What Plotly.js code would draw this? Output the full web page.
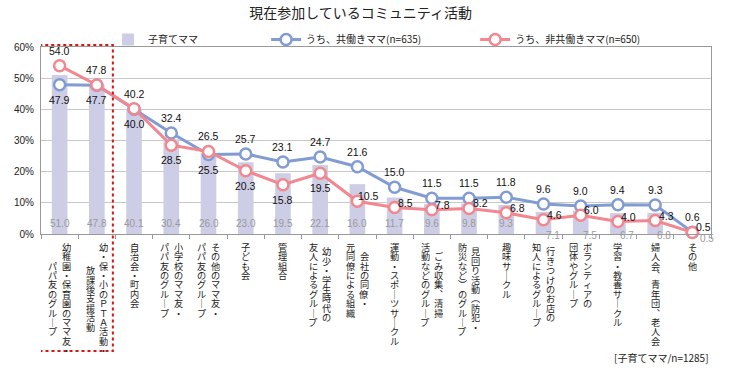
<!DOCTYPE html>
<html><head><meta charset="utf-8">
<script src="https://cdn.plot.ly/plotly-3.0.1.min.js"></script>
<style>html,body{margin:0;padding:0;background:#fff}</style>
</head><body><div id="chart" style="width:730px;height:375px"></div>
<script>
// ---- data ----
const labelColumns = [
  ['幼稚園・保育園のママ友・', 'パパ友のグループ'],
  ['幼・保・小のＰＴＡ活動・', '放課後支援活動'],
  ['自治会・町内会'],
  ['小学校のママ友・', 'パパ友のグループ'],
  ['その他のママ友・', 'パパ友のグループ'],
  ['子ども会'],
  ['管理組合'],
  ['幼少・学生時代の', '友人によるグループ'],
  ['会社の同僚・', '元同僚による組織'],
  ['運動・スポーツサークル'],
  ['ごみ収集、清掃', '活動などのグループ'],
  ['見回り活動（防犯・', '防災など）のグループ'],
  ['趣味サークル'],
  ['行きつけのお店の', '知人によるグループ'],
  ['ボランティアの', '団体やグループ'],
  ['学習・教養サークル'],
  ['婦人会、青年団、老人会'],
  ['その他']
];
const categories = labelColumns.map(c => c.join(''));
const allMoms        = [51.0, 47.8, 40.1, 30.4, 26.0, 23.0, 19.5, 22.1, 16.0, 11.7, 9.6, 9.8, 9.3, 7.1, 7.5, 6.7, 6.8, 0.5];
const workingMoms    = [47.9, 47.7, 40.0, 32.4, 25.5, 25.7, 23.1, 24.7, 21.6, 15.0, 11.5, 11.5, 11.8, 9.6, 9.0, 9.4, 9.3, 0.6];
const nonWorkingMoms = [54.0, 47.8, 40.2, 28.5, 26.5, 20.3, 15.8, 19.5, 10.5, 8.5, 7.8, 8.2, 6.8, 4.6, 6.0, 4.0, 4.3, 0.5];
const seriesNames = ['子育てママ', 'うち、共働きママ(n=635)', 'うち、非共働きママ(n=650)'];
const yTicks = [0, 10, 20, 30, 40, 50, 60];
const yTickText = ['0%', '10%', '20%', '30%', '40%', '50%', '60%'];
const chartTitle = '現在参加しているコミュニティ活動';
const footnote = '[子育てママ/n=1285]';

// ---- style ----
const JP = '"Noto Sans CJK JP", "Noto Sans", sans-serif';
const NUM = '"Liberation Sans", Arial, sans-serif';
const BAR_C = '#cdcde6', BLUE = '#819bd3', PINK = '#f2878f';
// label placement per point (style)
const bluePlace = categories.map((_, i) => nonWorkingMoms[i] > workingMoms[i] ? 'below' : 'above');
const pinkPlace = categories.map((_, i) => nonWorkingMoms[i] > workingMoms[i] ? 'above' : (i >= 8 ? 'right' : 'below'));
const placeShift = {above: [0, 15], below: [0, -15], right: [11, 5]};

const traces = [
  {type: 'bar', x: categories, y: allMoms, name: seriesNames[0], marker: {color: BAR_C}, width: 0.42,
   legend: 'legend', hoverinfo: 'skip'},
  {type: 'scatter', mode: 'lines+markers', x: categories, y: workingMoms, name: seriesNames[1],
   line: {color: BLUE, width: 3}, marker: {symbol: 'circle', size: 11, color: '#fff', line: {color: BLUE, width: 2.5}},
   legend: 'legend2', cliponaxis: false, hoverinfo: 'skip'},
  {type: 'scatter', mode: 'lines+markers', x: categories, y: nonWorkingMoms, name: seriesNames[2],
   line: {color: PINK, width: 3}, marker: {symbol: 'circle', size: 11, color: '#fff', line: {color: PINK, width: 2.5}},
   legend: 'legend3', cliponaxis: false, hoverinfo: 'skip'}
];

const annotations = [];
// vertical category labels (one glyph per annotation, stacked)
const vmap = {'ー': '｜', '、': '︑', '（': '︵', '）': '︶'};
const PITCH = 9.4, COLGAP = 13.5, TOP = 8;
labelColumns.forEach((cols, k) => {
  const n = cols.length;
  const maxLen = Math.max(...cols.map(c => Array.from(c).length));
  cols.forEach((col, j) => {
    const chars = Array.from(col);
    const off = (maxLen - chars.length) / 2;
    const xs = (n - 1) / 2 * COLGAP - j * COLGAP;
    chars.forEach((ch, i) => {
      annotations.push({xref: 'x', yref: 'paper', x: categories[k], y: 0, text: vmap[ch] || ch,
        showarrow: false, xanchor: 'center', yanchor: 'middle', xshift: xs, height: 10, borderpad: 0,
        yshift: -(TOP + (off + i + 0.5) * PITCH), font: {family: JP, size: 9.2, color: '#222'}});
    });
  });
});
// bar value labels at base
allMoms.forEach((v, i) => {
  let xs = 0, ys = 11;
  if (v < 1) { xs = 15; ys = -4; } else if (v < 8) { xs = 9; ys = -1; }
  annotations.push({xref: 'x', yref: 'y', x: categories[i], y: 0, text: v.toFixed(1), showarrow: false,
    xanchor: 'center', yanchor: 'middle', xshift: xs, yshift: ys, font: {family: NUM, size: 10, color: '#9a9a9a'}});
});
// line value labels
[[workingMoms, bluePlace], [nonWorkingMoms, pinkPlace]].forEach(([vals, place]) => {
  vals.forEach((v, i) => {
    const s = placeShift[place[i]];
    annotations.push({xref: 'x', yref: 'y', x: categories[i], y: v, text: v.toFixed(1), showarrow: false,
      xanchor: 'center', yanchor: 'middle', xshift: s[0], yshift: s[1], font: {family: NUM, size: 10.5, color: '#111'}});
  });
});
annotations.push({xref: 'paper', yref: 'paper', x: 1, y: -0.658, text: footnote, showarrow: false,
  xanchor: 'right', yanchor: 'middle', font: {family: JP, size: 10, color: '#222'}});

const legendBase = {orientation: 'h', y: 1.04, yanchor: 'middle', xanchor: 'left', bgcolor: 'rgba(0,0,0,0)',
  font: {family: JP, size: 10, color: '#222'}, itemwidth: 30};

const layout = {
  width: 730, height: 375,
  margin: {l: 41, r: 19, t: 47, b: 141},
  paper_bgcolor: '#fff', plot_bgcolor: '#fff',
  title: {text: chartTitle, xref: 'container', yref: 'container', x: 0.494, y: 0.965, xanchor: 'center', yanchor: 'middle',
          font: {family: JP, size: 14, color: '#222'}},
  xaxis: {type: 'category', range: [-0.5, 17.5], showticklabels: false, ticks: 'outside', tickson: 'boundaries',
          ticklen: 4, tickcolor: '#999', showline: true, linecolor: '#999', mirror: true, showgrid: false, fixedrange: true},
  yaxis: {range: [0, 60], tickmode: 'array', tickvals: yTicks, ticktext: yTickText, showgrid: true, gridcolor: '#c8c8c8', gridwidth: 1,
          zeroline: false, showline: true, linecolor: '#999', mirror: true, ticks: '', ticklabelstandoff: 4,
          tickfont: {family: NUM, size: 10, color: '#222'}, fixedrange: true, automargin: false},
  showlegend: true,
  legend: Object.assign({}, legendBase, {x: 0.1}),
  legend2: Object.assign({}, legendBase, {x: 0.336}),
  legend3: Object.assign({}, legendBase, {x: 0.648}),
  annotations: annotations,
  shapes: [{type: 'rect', xref: 'x', yref: 'paper', x0: -0.54, x1: 1.43, y0: -0.626, y1: 1.011,
            line: {color: '#e01010', width: 2, dash: 'dot'}, fillcolor: 'rgba(0,0,0,0)', layer: 'above'}]
};

Plotly.newPlot('chart', traces, layout, {displayModeBar: false, staticPlot: true});
</script>
</body></html>
